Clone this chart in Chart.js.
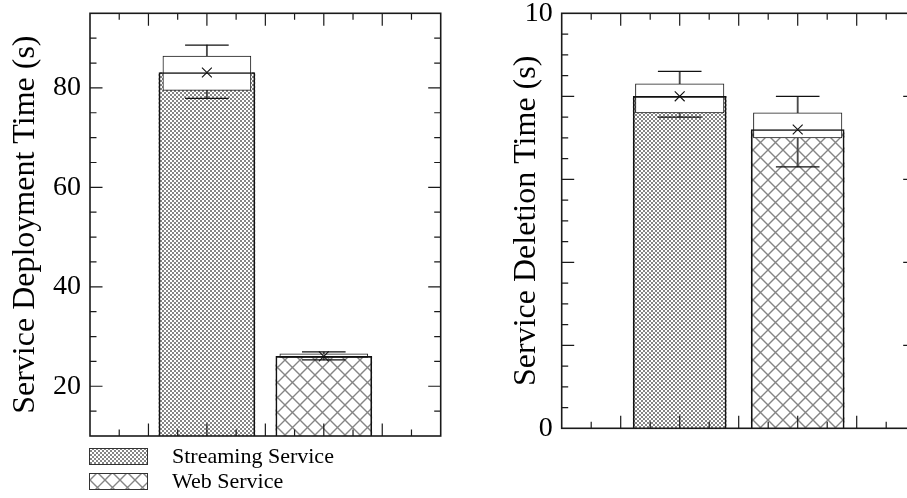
<!DOCTYPE html>
<html>
<head>
<meta charset="utf-8">
<script src="https://cdn.jsdelivr.net/npm/chart.js@4/dist/chart.umd.min.js"></script>
<style>
  html, body { margin: 0; padding: 0; background: #fff; overflow: hidden; }
  #wrap { position: relative; width: 907px; height: 498px; overflow: hidden; }
  canvas { position: absolute; top: 0; }
</style>
</head>
<body>
<div id="wrap">
  <canvas id="deploy" width="453" height="498" style="left:0"></canvas>
  <canvas id="delete" width="470" height="498" style="left:453px"></canvas>
</div>
<script>
// categories
var seriesNames = ['Streaming Service', 'Web Service'];
var xPos = [2, 4];

// service deployment time (s)
var deployMean = [83.1, 26.0];
var deployQ1 = [79.5, 25.8];
var deployQ3 = [86.4, 26.5];
var deployLow = [77.9, 25.3];
var deployHigh = [88.6, 26.9];
var deployTicks = [20, 40, 60, 80];

// service deletion time (s)
var deleteMean = [8.0, 7.2];
var deleteQ1 = [7.6, 7.0];
var deleteQ3 = [8.3, 7.6];
var deleteLow = [7.5, 6.3];
var deleteHigh = [8.6, 8.0];
var deleteTicks = [0, 10];

Chart.defaults.font.family = "'Liberation Serif', serif";
Chart.defaults.color = '#000';

// fill patterns
function checker() {
  var c = document.createElement('canvas');
  c.width = 4; c.height = 4;
  var g = c.getContext('2d');
  g.fillStyle = '#fff'; g.fillRect(0, 0, 4, 4);
  g.fillStyle = '#858585';
  g.fillRect(0, 0, 2, 2); g.fillRect(2, 2, 2, 2);
  return g.createPattern(c, 'repeat');
}
function crosshatch() {
  var s = 15;
  var c = document.createElement('canvas');
  c.width = s; c.height = s;
  var g = c.getContext('2d');
  g.fillStyle = '#fff'; g.fillRect(0, 0, s, s);
  g.strokeStyle = '#858585'; g.lineWidth = 1.4;
  g.beginPath();
  [-s, 0, s].forEach(function (k) {
    g.moveTo(k, 0); g.lineTo(k + s, s);
    g.moveTo(k + s, 0); g.lineTo(k, s);
  });
  g.stroke();
  return g.createPattern(c, 'repeat');
}
var fills = [checker(), crosshatch()];

// inward tick marks and frame
var frameTicks = {
  id: 'frameTicks',
  afterDatasetsDraw: function (chart, args, o) {
    var ctx = chart.ctx, a = chart.chartArea;
    var xs = chart.scales.x, ys = chart.scales.y;
    ctx.save();
    ctx.strokeStyle = '#1a1a1a';
    ctx.lineWidth = 1.2;
    ctx.beginPath();
    var v, p, len;
    for (v = xs.min + 0.5; v < xs.max; v += 0.5) {
      p = xs.getPixelForValue(v);
      len = Math.abs(v - Math.round(v)) < 1e-6 ? 12.5 : 6.5;
      ctx.moveTo(p, a.bottom); ctx.lineTo(p, a.bottom - len);
      ctx.moveTo(p, a.top); ctx.lineTo(p, a.top + len);
    }
    for (v = ys.min + o.minor; v < ys.max - 1e-6; v += o.minor) {
      p = ys.getPixelForValue(v);
      var r = v / o.major;
      len = Math.abs(r - Math.round(r)) < 1e-6 ? 12.5 : 6.5;
      ctx.moveTo(a.left, p); ctx.lineTo(a.left + len, p);
      ctx.moveTo(a.right, p); ctx.lineTo(a.right - len, p);
    }
    ctx.stroke();
    ctx.lineWidth = 1.6;
    ctx.strokeRect(a.left, a.top, a.right - a.left, a.bottom - a.top);
    ctx.restore();
  }
};

// legend below the left panel
var boxLegend = {
  id: 'boxLegend',
  afterDraw: function (chart, args, o) {
    if (!o.show) return;
    var ctx = chart.ctx;
    ctx.save();
    seriesNames.forEach(function (name, i) {
      var y = 448 + i * 25;
      ctx.fillStyle = fills[i];
      ctx.fillRect(89, y, 59, 17);
      ctx.strokeStyle = '#333';
      ctx.lineWidth = 1;
      ctx.strokeRect(89.5, y + 0.5, 58, 16);
      ctx.fillStyle = '#000';
      ctx.font = "22px 'Liberation Serif'";
      ctx.textBaseline = 'middle';
      ctx.fillText(name, 172, y + 9);
    });
    ctx.restore();
  }
};

function makePanel(id, p) {
  var pts = function (arr) { return xPos.map(function (x, i) { return { x: x, y: arr[i] }; }); };
  var rng = function (lo, hi) { return xPos.map(function (x, i) { return { x: x, y: [lo[i], hi[i]] }; }); };
  new Chart(document.getElementById(id), {
    type: 'bar',
    data: {
      datasets: [{
        data: pts(p.mean), backgroundColor: fills, borderWidth: 0,
        grouped: false, barThickness: p.barW, order: 5
      }, {
        data: rng(p.low, p.high), backgroundColor: '#4a4a4a', borderWidth: 0,
        grouped: false, barThickness: 1.2, order: 4
      }, {
        data: rng(p.q1, p.q3), backgroundColor: '#fff', borderColor: '#1a1a1a', borderWidth: 1,
        borderSkipped: false, grouped: false, barThickness: p.boxW, order: 3
      }, {
        data: pts(p.mean), backgroundColor: 'rgba(0,0,0,0)', borderColor: '#111', borderWidth: 1,
        grouped: false, barThickness: p.barW, order: 2
      }, {
        type: 'scatter', data: pts(p.high).concat(pts(p.low)),
        pointStyle: 'line', pointRadius: 21.8, borderColor: '#111', borderWidth: 1.2, order: 1
      }, {
        type: 'scatter', data: pts(p.mean),
        pointStyle: 'crossRot', pointRadius: 7, borderColor: '#111', borderWidth: 1.1, order: 0
      }]
    },
    options: {
      responsive: false,
      animation: false,
      events: [],
      layout: { padding: p.pad, autoPadding: false },
      plugins: {
        legend: { display: false },
        tooltip: { enabled: false },
        frameTicks: { minor: p.minor, major: p.major },
        boxLegend: { show: p.legend }
      },
      scales: {
        x: {
          type: 'linear', min: 0, max: 6, offset: false,
          ticks: { display: false, stepSize: 1 },
          grid: { display: false }, border: { display: false },
          afterFit: function (ax) { ax.height = p.xH; ax.paddingLeft = 0; ax.paddingRight = 0; }
        },
        y: {
          min: p.min, max: p.max,
          afterBuildTicks: function (ax) { ax.ticks = p.labels.map(function (v) { return { value: v }; }); },
          ticks: { font: { size: 28 }, padding: 9, color: '#000' },
          grid: { display: false, drawTicks: false }, border: { display: false },
          title: { display: true, text: p.title, font: { size: 32 }, padding: { top: p.titlePad, bottom: 0 }, color: '#000' },
          afterFit: function (ax) { ax.width = p.yW; ax.paddingTop = 0; ax.paddingBottom = 0; }
        }
      }
    },
    plugins: [frameTicks, boxLegend]
  });
}

makePanel('deploy', {
  mean: deployMean, q1: deployQ1, q3: deployQ3, low: deployLow, high: deployHigh,
  labels: deployTicks, min: 10, max: 95, minor: 5, major: 20,
  title: 'Service Deployment Time (s)', titlePad: 6,
  pad: { top: 13.3, right: 12.3, left: 0, bottom: 0 }, yW: 90, xH: 62,
  barW: 96, boxW: 88, legend: true
});

makePanel('delete', {
  mean: deleteMean, q1: deleteQ1, q3: deleteQ3, low: deleteLow, high: deleteHigh,
  labels: deleteTicks, min: 0, max: 10, minor: 0.5, major: 2,
  title: 'Service Deletion Time (s)', titlePad: 54,
  pad: { top: 13.3, right: 7.3, left: 0, bottom: 0 }, yW: 108.7, xH: 69.7,
  barW: 93, boxW: 88.5, legend: false
});
</script>
</body>
</html>
